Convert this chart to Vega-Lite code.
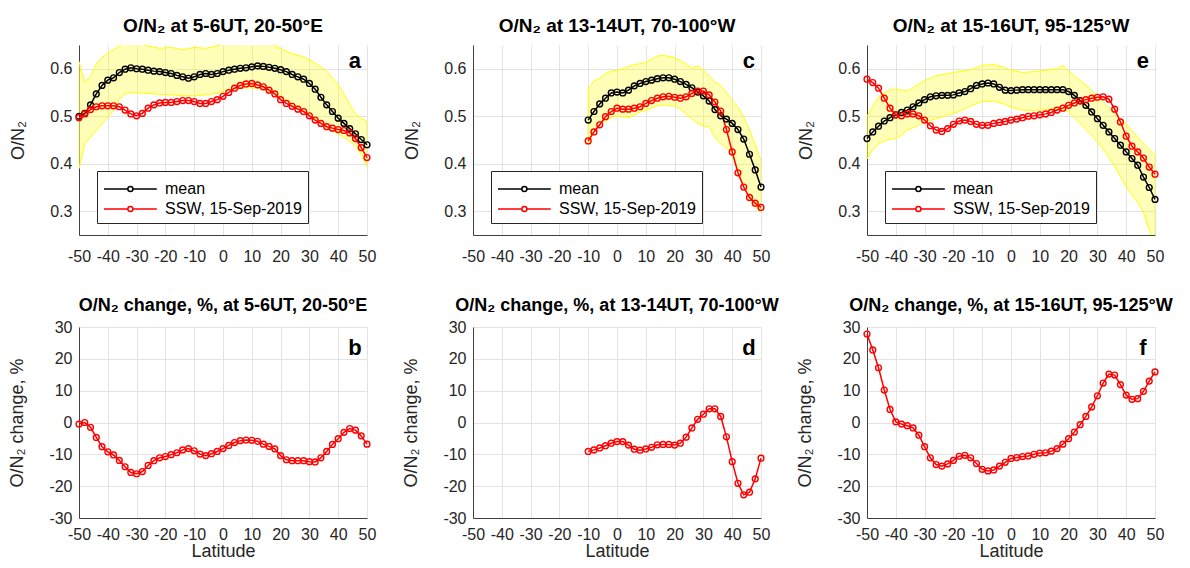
{
"$schema": "https://vega.github.io/schema/vega-lite/v6.json",
"background": "white",
"padding": {"left": 8, "top": 17, "right": 5, "bottom": 5},
"config": {
  "font": "Liberation Sans",
  "view": {"stroke": null},
  "axis": {"labelFont": "Liberation Sans", "labelFontSize": 16, "labelColor": "#262626", "titleFont": "Liberation Sans", "titleFontSize": 18, "titleFontWeight": "normal", "titleColor": "#262626", "domainColor": "#404040", "gridColor": "#e3e3e3", "ticks": false, "labelPadding": 8, "labelFlush": false, "labelOverlap": false},
  "axisY": {"titlePadding": 22, "labelPadding": 7},
  "axisX": {"titlePadding": 0},
  "title": {"font": "Liberation Sans", "fontSize": 19, "fontWeight": "bold", "color": "#000000", "offset": 9},
  "legend": {"labelFont": "Liberation Sans", "labelFontSize": 16, "labelColor": "#000000"}
},
"datasets": {
  "a": [
    {"lat": -50, "mean": 0.500, "ssw": 0.497}, {"lat": -48, "mean": 0.506, "ssw": 0.505}, {"lat": -46, "mean": 0.524, "ssw": 0.514}, {"lat": -44, "mean": 0.547, "ssw": 0.520}, {"lat": -42, "mean": 0.565, "ssw": 0.522}, {"lat": -40, "mean": 0.576, "ssw": 0.522}, {"lat": -38, "mean": 0.581, "ssw": 0.522}, {"lat": -36, "mean": 0.592, "ssw": 0.520}, {"lat": -34, "mean": 0.599, "ssw": 0.513}, {"lat": -32, "mean": 0.602, "ssw": 0.505}, {"lat": -30, "mean": 0.600, "ssw": 0.501}, {"lat": -28, "mean": 0.599, "ssw": 0.506}, {"lat": -26, "mean": 0.597, "ssw": 0.517}, {"lat": -24, "mean": 0.595, "ssw": 0.524}, {"lat": -22, "mean": 0.594, "ssw": 0.528}, {"lat": -20, "mean": 0.592, "ssw": 0.529}, {"lat": -18, "mean": 0.590, "ssw": 0.529}, {"lat": -16, "mean": 0.586, "ssw": 0.531}, {"lat": -14, "mean": 0.583, "ssw": 0.533}, {"lat": -12, "mean": 0.580, "ssw": 0.533}, {"lat": -10, "mean": 0.583, "ssw": 0.531}, {"lat": -8, "mean": 0.588, "ssw": 0.527}, {"lat": -6, "mean": 0.590, "ssw": 0.527}, {"lat": -4, "mean": 0.588, "ssw": 0.531}, {"lat": -2, "mean": 0.590, "ssw": 0.535}, {"lat": 0, "mean": 0.594, "ssw": 0.542}, {"lat": 2, "mean": 0.597, "ssw": 0.550}, {"lat": 4, "mean": 0.599, "ssw": 0.559}, {"lat": 6, "mean": 0.601, "ssw": 0.565}, {"lat": 8, "mean": 0.602, "ssw": 0.568}, {"lat": 10, "mean": 0.604, "ssw": 0.569}, {"lat": 12, "mean": 0.606, "ssw": 0.566}, {"lat": 14, "mean": 0.605, "ssw": 0.562}, {"lat": 16, "mean": 0.603, "ssw": 0.555}, {"lat": 18, "mean": 0.601, "ssw": 0.547}, {"lat": 20, "mean": 0.598, "ssw": 0.535}, {"lat": 22, "mean": 0.594, "ssw": 0.527}, {"lat": 24, "mean": 0.588, "ssw": 0.521}, {"lat": 26, "mean": 0.583, "ssw": 0.515}, {"lat": 28, "mean": 0.578, "ssw": 0.510}, {"lat": 30, "mean": 0.569, "ssw": 0.501}, {"lat": 32, "mean": 0.557, "ssw": 0.492}, {"lat": 34, "mean": 0.540, "ssw": 0.485}, {"lat": 36, "mean": 0.524, "ssw": 0.478}, {"lat": 38, "mean": 0.510, "ssw": 0.475}, {"lat": 40, "mean": 0.496, "ssw": 0.472}, {"lat": 42, "mean": 0.485, "ssw": 0.470}, {"lat": 44, "mean": 0.474, "ssw": 0.465}, {"lat": 46, "mean": 0.463, "ssw": 0.453}, {"lat": 48, "mean": 0.451, "ssw": 0.434}, {"lat": 50, "mean": 0.440, "ssw": 0.413}
  ],
  "a_band": [
    {"lat": -50, "lo": 0.390, "hi": 0.615}, {"lat": -48, "lo": 0.442, "hi": 0.571}, {"lat": -46, "lo": 0.456, "hi": 0.585}, {"lat": -44, "lo": 0.470, "hi": 0.610}, {"lat": -42, "lo": 0.484, "hi": 0.623}, {"lat": -40, "lo": 0.498, "hi": 0.633}, {"lat": -38, "lo": 0.512, "hi": 0.640}, {"lat": -36, "lo": 0.536, "hi": 0.648}, {"lat": -34, "lo": 0.547, "hi": 0.655}, {"lat": -32, "lo": 0.550, "hi": 0.660}, {"lat": -30, "lo": 0.549, "hi": 0.655}, {"lat": -26, "lo": 0.548, "hi": 0.648}, {"lat": -22, "lo": 0.546, "hi": 0.643}, {"lat": -18, "lo": 0.545, "hi": 0.645}, {"lat": -14, "lo": 0.543, "hi": 0.640}, {"lat": -10, "lo": 0.543, "hi": 0.645}, {"lat": -6, "lo": 0.545, "hi": 0.643}, {"lat": -2, "lo": 0.548, "hi": 0.648}, {"lat": 0, "lo": 0.553, "hi": 0.652}, {"lat": 4, "lo": 0.558, "hi": 0.658}, {"lat": 8, "lo": 0.560, "hi": 0.660}, {"lat": 12, "lo": 0.559, "hi": 0.658}, {"lat": 16, "lo": 0.553, "hi": 0.655}, {"lat": 20, "lo": 0.543, "hi": 0.642}, {"lat": 24, "lo": 0.526, "hi": 0.632}, {"lat": 28, "lo": 0.510, "hi": 0.625}, {"lat": 32, "lo": 0.495, "hi": 0.612}, {"lat": 36, "lo": 0.475, "hi": 0.595}, {"lat": 40, "lo": 0.463, "hi": 0.567}, {"lat": 44, "lo": 0.447, "hi": 0.525}, {"lat": 46, "lo": 0.437, "hi": 0.505}, {"lat": 48, "lo": 0.420, "hi": 0.495}, {"lat": 50, "lo": 0.393, "hi": 0.490}
  ],
  "c": [
    {"lat": -10, "mean": 0.492, "ssw": 0.448}, {"lat": -8, "mean": 0.510, "ssw": 0.467}, {"lat": -6, "mean": 0.526, "ssw": 0.482}, {"lat": -4, "mean": 0.538, "ssw": 0.499}, {"lat": -2, "mean": 0.549, "ssw": 0.510}, {"lat": 0, "mean": 0.551, "ssw": 0.517}, {"lat": 2, "mean": 0.549, "ssw": 0.515}, {"lat": 4, "mean": 0.555, "ssw": 0.515}, {"lat": 6, "mean": 0.564, "ssw": 0.517}, {"lat": 8, "mean": 0.569, "ssw": 0.520}, {"lat": 10, "mean": 0.573, "ssw": 0.527}, {"lat": 12, "mean": 0.576, "ssw": 0.533}, {"lat": 14, "mean": 0.579, "ssw": 0.538}, {"lat": 16, "mean": 0.581, "ssw": 0.541}, {"lat": 18, "mean": 0.581, "ssw": 0.542}, {"lat": 20, "mean": 0.578, "ssw": 0.540}, {"lat": 22, "mean": 0.573, "ssw": 0.538}, {"lat": 24, "mean": 0.567, "ssw": 0.541}, {"lat": 26, "mean": 0.560, "ssw": 0.548}, {"lat": 28, "mean": 0.551, "ssw": 0.553}, {"lat": 30, "mean": 0.543, "ssw": 0.553}, {"lat": 32, "mean": 0.532, "ssw": 0.545}, {"lat": 34, "mean": 0.514, "ssw": 0.530}, {"lat": 36, "mean": 0.501, "ssw": 0.511}, {"lat": 38, "mean": 0.494, "ssw": 0.472}, {"lat": 40, "mean": 0.485, "ssw": 0.425}, {"lat": 42, "mean": 0.472, "ssw": 0.381}, {"lat": 44, "mean": 0.452, "ssw": 0.351}, {"lat": 46, "mean": 0.420, "ssw": 0.329}, {"lat": 48, "mean": 0.387, "ssw": 0.317}, {"lat": 50, "mean": 0.351, "ssw": 0.308}
  ],
  "c_band": [
    {"lat": -10, "lo": 0.440, "hi": 0.557}, {"lat": -8, "lo": 0.470, "hi": 0.574}, {"lat": -6, "lo": 0.482, "hi": 0.580}, {"lat": -4, "lo": 0.490, "hi": 0.590}, {"lat": -2, "lo": 0.497, "hi": 0.595}, {"lat": 0, "lo": 0.501, "hi": 0.597}, {"lat": 2, "lo": 0.499, "hi": 0.600}, {"lat": 4, "lo": 0.497, "hi": 0.605}, {"lat": 6, "lo": 0.503, "hi": 0.608}, {"lat": 8, "lo": 0.509, "hi": 0.611}, {"lat": 10, "lo": 0.512, "hi": 0.613}, {"lat": 12, "lo": 0.518, "hi": 0.620}, {"lat": 14, "lo": 0.522, "hi": 0.627}, {"lat": 16, "lo": 0.524, "hi": 0.628}, {"lat": 18, "lo": 0.522, "hi": 0.626}, {"lat": 20, "lo": 0.522, "hi": 0.623}, {"lat": 22, "lo": 0.515, "hi": 0.618}, {"lat": 24, "lo": 0.505, "hi": 0.610}, {"lat": 26, "lo": 0.495, "hi": 0.601}, {"lat": 28, "lo": 0.485, "hi": 0.606}, {"lat": 30, "lo": 0.480, "hi": 0.597}, {"lat": 32, "lo": 0.477, "hi": 0.585}, {"lat": 34, "lo": 0.456, "hi": 0.572}, {"lat": 36, "lo": 0.442, "hi": 0.565}, {"lat": 38, "lo": 0.435, "hi": 0.550}, {"lat": 40, "lo": 0.417, "hi": 0.533}, {"lat": 42, "lo": 0.386, "hi": 0.519}, {"lat": 44, "lo": 0.351, "hi": 0.498}, {"lat": 46, "lo": 0.327, "hi": 0.470}, {"lat": 48, "lo": 0.310, "hi": 0.440}, {"lat": 50, "lo": 0.297, "hi": 0.407}
  ],
  "e": [
    {"lat": -50, "mean": 0.453, "ssw": 0.578}, {"lat": -48, "mean": 0.467, "ssw": 0.571}, {"lat": -46, "mean": 0.479, "ssw": 0.559}, {"lat": -44, "mean": 0.490, "ssw": 0.538}, {"lat": -42, "mean": 0.497, "ssw": 0.517}, {"lat": -40, "mean": 0.503, "ssw": 0.503}, {"lat": -38, "mean": 0.508, "ssw": 0.501}, {"lat": -36, "mean": 0.513, "ssw": 0.505}, {"lat": -34, "mean": 0.520, "ssw": 0.505}, {"lat": -32, "mean": 0.528, "ssw": 0.501}, {"lat": -30, "mean": 0.535, "ssw": 0.492}, {"lat": -28, "mean": 0.541, "ssw": 0.480}, {"lat": -26, "mean": 0.543, "ssw": 0.471}, {"lat": -24, "mean": 0.544, "ssw": 0.468}, {"lat": -22, "mean": 0.544, "ssw": 0.474}, {"lat": -20, "mean": 0.545, "ssw": 0.483}, {"lat": -18, "mean": 0.549, "ssw": 0.490}, {"lat": -16, "mean": 0.552, "ssw": 0.492}, {"lat": -14, "mean": 0.558, "ssw": 0.489}, {"lat": -12, "mean": 0.565, "ssw": 0.483}, {"lat": -10, "mean": 0.568, "ssw": 0.481}, {"lat": -8, "mean": 0.570, "ssw": 0.481}, {"lat": -6, "mean": 0.568, "ssw": 0.485}, {"lat": -4, "mean": 0.561, "ssw": 0.487}, {"lat": -2, "mean": 0.555, "ssw": 0.489}, {"lat": 0, "mean": 0.554, "ssw": 0.492}, {"lat": 2, "mean": 0.555, "ssw": 0.494}, {"lat": 4, "mean": 0.556, "ssw": 0.497}, {"lat": 6, "mean": 0.556, "ssw": 0.500}, {"lat": 8, "mean": 0.556, "ssw": 0.501}, {"lat": 10, "mean": 0.556, "ssw": 0.503}, {"lat": 12, "mean": 0.556, "ssw": 0.505}, {"lat": 14, "mean": 0.556, "ssw": 0.508}, {"lat": 16, "mean": 0.556, "ssw": 0.513}, {"lat": 18, "mean": 0.556, "ssw": 0.517}, {"lat": 20, "mean": 0.552, "ssw": 0.523}, {"lat": 22, "mean": 0.544, "ssw": 0.528}, {"lat": 24, "mean": 0.533, "ssw": 0.532}, {"lat": 26, "mean": 0.523, "ssw": 0.535}, {"lat": 28, "mean": 0.509, "ssw": 0.538}, {"lat": 30, "mean": 0.495, "ssw": 0.540}, {"lat": 32, "mean": 0.481, "ssw": 0.541}, {"lat": 34, "mean": 0.467, "ssw": 0.536}, {"lat": 36, "mean": 0.453, "ssw": 0.515}, {"lat": 38, "mean": 0.439, "ssw": 0.488}, {"lat": 40, "mean": 0.425, "ssw": 0.458}, {"lat": 42, "mean": 0.411, "ssw": 0.437}, {"lat": 44, "mean": 0.397, "ssw": 0.425}, {"lat": 46, "mean": 0.372, "ssw": 0.412}, {"lat": 48, "mean": 0.350, "ssw": 0.393}, {"lat": 50, "mean": 0.325, "ssw": 0.378}
  ],
  "e_band": [
    {"lat": -50, "lo": 0.410, "hi": 0.500}, {"lat": -48, "lo": 0.430, "hi": 0.520}, {"lat": -46, "lo": 0.442, "hi": 0.540}, {"lat": -44, "lo": 0.448, "hi": 0.550}, {"lat": -42, "lo": 0.452, "hi": 0.555}, {"lat": -40, "lo": 0.453, "hi": 0.557}, {"lat": -38, "lo": 0.460, "hi": 0.555}, {"lat": -36, "lo": 0.471, "hi": 0.553}, {"lat": -34, "lo": 0.476, "hi": 0.560}, {"lat": -32, "lo": 0.482, "hi": 0.568}, {"lat": -30, "lo": 0.488, "hi": 0.575}, {"lat": -26, "lo": 0.495, "hi": 0.585}, {"lat": -22, "lo": 0.502, "hi": 0.590}, {"lat": -18, "lo": 0.510, "hi": 0.594}, {"lat": -14, "lo": 0.522, "hi": 0.598}, {"lat": -10, "lo": 0.531, "hi": 0.607}, {"lat": -6, "lo": 0.532, "hi": 0.609}, {"lat": -2, "lo": 0.525, "hi": 0.602}, {"lat": 0, "lo": 0.519, "hi": 0.597}, {"lat": 4, "lo": 0.513, "hi": 0.592}, {"lat": 8, "lo": 0.512, "hi": 0.594}, {"lat": 12, "lo": 0.514, "hi": 0.597}, {"lat": 16, "lo": 0.516, "hi": 0.600}, {"lat": 18, "lo": 0.514, "hi": 0.607}, {"lat": 20, "lo": 0.510, "hi": 0.595}, {"lat": 22, "lo": 0.497, "hi": 0.585}, {"lat": 24, "lo": 0.485, "hi": 0.575}, {"lat": 26, "lo": 0.472, "hi": 0.566}, {"lat": 28, "lo": 0.460, "hi": 0.555}, {"lat": 30, "lo": 0.446, "hi": 0.543}, {"lat": 32, "lo": 0.430, "hi": 0.530}, {"lat": 34, "lo": 0.413, "hi": 0.518}, {"lat": 36, "lo": 0.395, "hi": 0.506}, {"lat": 38, "lo": 0.373, "hi": 0.495}, {"lat": 40, "lo": 0.351, "hi": 0.484}, {"lat": 42, "lo": 0.335, "hi": 0.470}, {"lat": 44, "lo": 0.318, "hi": 0.456}, {"lat": 46, "lo": 0.298, "hi": 0.442}, {"lat": 48, "lo": 0.260, "hi": 0.430}, {"lat": 50, "lo": 0.230, "hi": 0.418}
  ],
  "b": [
    {"lat": -50, "pct": -0.5}, {"lat": -48, "pct": 0.0}, {"lat": -46, "pct": -1.5}, {"lat": -44, "pct": -4.7}, {"lat": -42, "pct": -7.6}, {"lat": -40, "pct": -9.2}, {"lat": -38, "pct": -10.2}, {"lat": -36, "pct": -11.9}, {"lat": -34, "pct": -13.9}, {"lat": -32, "pct": -15.7}, {"lat": -30, "pct": -16.1}, {"lat": -28, "pct": -15.4}, {"lat": -26, "pct": -13.5}, {"lat": -24, "pct": -12.0}, {"lat": -22, "pct": -11.1}, {"lat": -20, "pct": -10.7}, {"lat": -18, "pct": -10.1}, {"lat": -16, "pct": -9.5}, {"lat": -14, "pct": -8.6}, {"lat": -12, "pct": -8.2}, {"lat": -10, "pct": -8.9}, {"lat": -8, "pct": -9.9}, {"lat": -6, "pct": -10.4}, {"lat": -4, "pct": -9.8}, {"lat": -2, "pct": -9.1}, {"lat": 0, "pct": -8.2}, {"lat": 2, "pct": -7.2}, {"lat": 4, "pct": -6.3}, {"lat": 6, "pct": -5.7}, {"lat": 8, "pct": -5.5}, {"lat": 10, "pct": -5.6}, {"lat": 12, "pct": -5.9}, {"lat": 14, "pct": -6.8}, {"lat": 16, "pct": -7.5}, {"lat": 18, "pct": -8.3}, {"lat": 20, "pct": -10.4}, {"lat": 22, "pct": -11.7}, {"lat": 24, "pct": -12.0}, {"lat": 26, "pct": -12.0}, {"lat": 28, "pct": -12.0}, {"lat": 30, "pct": -12.3}, {"lat": 32, "pct": -12.4}, {"lat": 34, "pct": -11.1}, {"lat": 36, "pct": -9.1}, {"lat": 38, "pct": -6.9}, {"lat": 40, "pct": -5.1}, {"lat": 42, "pct": -3.1}, {"lat": 44, "pct": -1.9}, {"lat": 46, "pct": -2.4}, {"lat": 48, "pct": -4.2}, {"lat": 50, "pct": -6.8}
  ],
  "d": [
    {"lat": -10, "pct": -9.1}, {"lat": -8, "pct": -8.6}, {"lat": -6, "pct": -8.0}, {"lat": -4, "pct": -7.3}, {"lat": -2, "pct": -6.5}, {"lat": 0, "pct": -6.0}, {"lat": 2, "pct": -6.0}, {"lat": 4, "pct": -7.1}, {"lat": 6, "pct": -8.4}, {"lat": 8, "pct": -8.7}, {"lat": 10, "pct": -8.3}, {"lat": 12, "pct": -7.8}, {"lat": 14, "pct": -7.0}, {"lat": 16, "pct": -6.9}, {"lat": 18, "pct": -6.9}, {"lat": 20, "pct": -7.1}, {"lat": 22, "pct": -6.5}, {"lat": 24, "pct": -4.6}, {"lat": 26, "pct": -1.7}, {"lat": 28, "pct": 1.0}, {"lat": 30, "pct": 2.6}, {"lat": 32, "pct": 4.3}, {"lat": 34, "pct": 4.3}, {"lat": 36, "pct": 1.9}, {"lat": 38, "pct": -4.5}, {"lat": 40, "pct": -12.3}, {"lat": 42, "pct": -19.1}, {"lat": 44, "pct": -22.7}, {"lat": 46, "pct": -21.9}, {"lat": 48, "pct": -17.7}, {"lat": 50, "pct": -11.2}
  ],
  "f": [
    {"lat": -50, "pct": 27.8}, {"lat": -48, "pct": 22.8}, {"lat": -46, "pct": 17.2}, {"lat": -44, "pct": 10.2}, {"lat": -42, "pct": 4.1}, {"lat": -40, "pct": 0.2}, {"lat": -38, "pct": -0.5}, {"lat": -36, "pct": -1.0}, {"lat": -34, "pct": -1.7}, {"lat": -32, "pct": -4.0}, {"lat": -30, "pct": -7.6}, {"lat": -28, "pct": -11.1}, {"lat": -26, "pct": -13.2}, {"lat": -24, "pct": -13.7}, {"lat": -22, "pct": -13.0}, {"lat": -20, "pct": -11.9}, {"lat": -18, "pct": -10.6}, {"lat": -16, "pct": -10.3}, {"lat": -14, "pct": -11.1}, {"lat": -12, "pct": -12.9}, {"lat": -10, "pct": -14.7}, {"lat": -8, "pct": -15.2}, {"lat": -6, "pct": -14.9}, {"lat": -4, "pct": -13.7}, {"lat": -2, "pct": -12.5}, {"lat": 0, "pct": -11.3}, {"lat": 2, "pct": -11.0}, {"lat": 4, "pct": -10.7}, {"lat": 6, "pct": -10.5}, {"lat": 8, "pct": -10.0}, {"lat": 10, "pct": -9.6}, {"lat": 12, "pct": -9.5}, {"lat": 14, "pct": -9.0}, {"lat": 16, "pct": -8.2}, {"lat": 18, "pct": -6.8}, {"lat": 20, "pct": -5.1}, {"lat": 22, "pct": -3.0}, {"lat": 24, "pct": -0.7}, {"lat": 26, "pct": 1.9}, {"lat": 28, "pct": 4.9}, {"lat": 30, "pct": 8.4}, {"lat": 32, "pct": 12.4}, {"lat": 34, "pct": 15.2}, {"lat": 36, "pct": 14.9}, {"lat": 38, "pct": 11.9}, {"lat": 40, "pct": 8.6}, {"lat": 42, "pct": 7.3}, {"lat": 44, "pct": 7.5}, {"lat": 46, "pct": 9.8}, {"lat": 48, "pct": 13.0}, {"lat": 50, "pct": 15.9}
  ]
},
"spacing": 33,
"vconcat": [
  {
    "hconcat": [
      {
        "width": 288, "height": 190,
        "title": "O/N₂ at 5-6UT, 20-50°E",
        "layer": [
          {"data": {"name": "a_band"}, "mark": {"type": "area", "clip": true, "fill": "#ffff00", "fillOpacity": 0.28, "stroke": "#ffff00", "strokeWidth": 1},
           "encoding": {"x": {"field": "lat", "type": "quantitative", "scale": {"domain": [-50, 50], "nice": false}, "axis": {"values": [-50, -40, -30, -20, -10, 0, 10, 20, 30, 40, 50], "labelExpr": "toString(datum.value)", "labelOverlap": false, "labelPadding": 13, "title": null}},
                        "y": {"field": "lo", "type": "quantitative", "scale": {"domain": [0.25, 0.65], "nice": false, "zero": false}, "axis": {"values": [0.3, 0.4, 0.5, 0.6], "labelExpr": "toString(datum.value)", "labelOverlap": false, "title": "O/N₂"}},
                        "y2": {"field": "hi"}}},
          {"data": {"name": "a"}, "transform": [{"fold": ["mean", "ssw"], "as": ["s", "v"]}],
           "mark": {"type": "line", "strokeWidth": 1.5, "point": {"filled": false, "size": 34, "strokeWidth": 1.4}},
           "encoding": {"x": {"field": "lat", "type": "quantitative", "scale": {"domain": [-50, 50], "nice": false}, "axis": {"values": [-50, -40, -30, -20, -10, 0, 10, 20, 30, 40, 50], "labelExpr": "toString(datum.value)", "labelOverlap": false, "labelPadding": 13, "title": null}},
                        "y": {"field": "v", "type": "quantitative", "scale": {"domain": [0.25, 0.65], "nice": false, "zero": false}, "axis": {"values": [0.3, 0.4, 0.5, 0.6], "labelExpr": "toString(datum.value)", "labelOverlap": false, "title": "O/N₂"}},
                        "color": {"field": "s", "type": "nominal", "scale": {"domain": ["mean", "ssw"], "range": ["#000000", "#ff0000"]},
                                  "legend": {"orient": "none", "legendX": 18, "legendY": 126, "title": null, "labelExpr": "datum.value == 'ssw' ? 'SSW, 15-Sep-2019' : 'mean'", "symbolType": "M-1,0H1.17M1.63,0H3.8M1.63,0A0.23,0.23,0,1,1,1.17,0A0.23,0.23,0,1,1,1.63,0", "symbolSize": 484, "symbolStrokeWidth": 1.5, "symbolFillColor": "transparent", "fillColor": "white", "strokeColor": "#262626", "padding": 6, "labelFontSize": 16, "rowPadding": 0, "labelOffset": 38}}}},
          {"data": {"values": [{"t": "a"}]}, "mark": {"type": "text", "fontSize": 22, "fontWeight": "bold", "align": "center", "baseline": "alphabetic", "color": "#000000"},
           "encoding": {"x": {"datum": 45.8, "type": "quantitative", "scale": {"domain": [-50, 50], "nice": false}, "axis": {"values": [-50, -40, -30, -20, -10, 0, 10, 20, 30, 40, 50], "labelExpr": "toString(datum.value)", "labelOverlap": false, "labelPadding": 13, "title": null}},
                        "y": {"datum": 0.6016, "type": "quantitative", "scale": {"domain": [0.25, 0.65], "nice": false, "zero": false}, "axis": {"values": [0.3, 0.4, 0.5, 0.6], "labelExpr": "toString(datum.value)", "labelOverlap": false, "title": "O/N₂"}},
                        "text": {"field": "t"}}}
        ]
      },
      {
        "width": 288, "height": 190,
        "title": "O/N₂ at 13-14UT, 70-100°W",
        "layer": [
          {"data": {"name": "c_band"}, "mark": {"type": "area", "clip": true, "fill": "#ffff00", "fillOpacity": 0.28, "stroke": "#ffff00", "strokeWidth": 1},
           "encoding": {"x": {"field": "lat", "type": "quantitative", "scale": {"domain": [-50, 50], "nice": false}, "axis": {"values": [-50, -40, -30, -20, -10, 0, 10, 20, 30, 40, 50], "labelExpr": "toString(datum.value)", "labelOverlap": false, "labelPadding": 13, "title": null}},
                        "y": {"field": "lo", "type": "quantitative", "scale": {"domain": [0.25, 0.65], "nice": false, "zero": false}, "axis": {"values": [0.3, 0.4, 0.5, 0.6], "labelExpr": "toString(datum.value)", "labelOverlap": false, "title": "O/N₂"}},
                        "y2": {"field": "hi"}}},
          {"data": {"name": "c"}, "transform": [{"fold": ["mean", "ssw"], "as": ["s", "v"]}],
           "mark": {"type": "line", "strokeWidth": 1.5, "point": {"filled": false, "size": 34, "strokeWidth": 1.4}},
           "encoding": {"x": {"field": "lat", "type": "quantitative", "scale": {"domain": [-50, 50], "nice": false}, "axis": {"values": [-50, -40, -30, -20, -10, 0, 10, 20, 30, 40, 50], "labelExpr": "toString(datum.value)", "labelOverlap": false, "labelPadding": 13, "title": null}},
                        "y": {"field": "v", "type": "quantitative", "scale": {"domain": [0.25, 0.65], "nice": false, "zero": false}, "axis": {"values": [0.3, 0.4, 0.5, 0.6], "labelExpr": "toString(datum.value)", "labelOverlap": false, "title": "O/N₂"}},
                        "color": {"field": "s", "type": "nominal", "scale": {"domain": ["mean", "ssw"], "range": ["#000000", "#ff0000"]},
                                  "legend": {"orient": "none", "legendX": 18, "legendY": 126, "title": null, "labelExpr": "datum.value == 'ssw' ? 'SSW, 15-Sep-2019' : 'mean'", "symbolType": "M-1,0H1.17M1.63,0H3.8M1.63,0A0.23,0.23,0,1,1,1.17,0A0.23,0.23,0,1,1,1.63,0", "symbolSize": 484, "symbolStrokeWidth": 1.5, "symbolFillColor": "transparent", "fillColor": "white", "strokeColor": "#262626", "padding": 6, "labelFontSize": 16, "rowPadding": 0, "labelOffset": 38}}}},
          {"data": {"values": [{"t": "c"}]}, "mark": {"type": "text", "fontSize": 22, "fontWeight": "bold", "align": "center", "baseline": "alphabetic", "color": "#000000"},
           "encoding": {"x": {"datum": 45.8, "type": "quantitative", "scale": {"domain": [-50, 50], "nice": false}, "axis": {"values": [-50, -40, -30, -20, -10, 0, 10, 20, 30, 40, 50], "labelExpr": "toString(datum.value)", "labelOverlap": false, "labelPadding": 13, "title": null}},
                        "y": {"datum": 0.6016, "type": "quantitative", "scale": {"domain": [0.25, 0.65], "nice": false, "zero": false}, "axis": {"values": [0.3, 0.4, 0.5, 0.6], "labelExpr": "toString(datum.value)", "labelOverlap": false, "title": "O/N₂"}},
                        "text": {"field": "t"}}}
        ]
      },
      {
        "width": 288, "height": 190,
        "title": "O/N₂ at 15-16UT, 95-125°W",
        "layer": [
          {"data": {"name": "e_band"}, "mark": {"type": "area", "clip": true, "fill": "#ffff00", "fillOpacity": 0.28, "stroke": "#ffff00", "strokeWidth": 1},
           "encoding": {"x": {"field": "lat", "type": "quantitative", "scale": {"domain": [-50, 50], "nice": false}, "axis": {"values": [-50, -40, -30, -20, -10, 0, 10, 20, 30, 40, 50], "labelExpr": "toString(datum.value)", "labelOverlap": false, "labelPadding": 13, "title": null}},
                        "y": {"field": "lo", "type": "quantitative", "scale": {"domain": [0.25, 0.65], "nice": false, "zero": false}, "axis": {"values": [0.3, 0.4, 0.5, 0.6], "labelExpr": "toString(datum.value)", "labelOverlap": false, "title": "O/N₂"}},
                        "y2": {"field": "hi"}}},
          {"data": {"name": "e"}, "transform": [{"fold": ["mean", "ssw"], "as": ["s", "v"]}],
           "mark": {"type": "line", "strokeWidth": 1.5, "point": {"filled": false, "size": 34, "strokeWidth": 1.4}},
           "encoding": {"x": {"field": "lat", "type": "quantitative", "scale": {"domain": [-50, 50], "nice": false}, "axis": {"values": [-50, -40, -30, -20, -10, 0, 10, 20, 30, 40, 50], "labelExpr": "toString(datum.value)", "labelOverlap": false, "labelPadding": 13, "title": null}},
                        "y": {"field": "v", "type": "quantitative", "scale": {"domain": [0.25, 0.65], "nice": false, "zero": false}, "axis": {"values": [0.3, 0.4, 0.5, 0.6], "labelExpr": "toString(datum.value)", "labelOverlap": false, "title": "O/N₂"}},
                        "color": {"field": "s", "type": "nominal", "scale": {"domain": ["mean", "ssw"], "range": ["#000000", "#ff0000"]},
                                  "legend": {"orient": "none", "legendX": 18, "legendY": 126, "title": null, "labelExpr": "datum.value == 'ssw' ? 'SSW, 15-Sep-2019' : 'mean'", "symbolType": "M-1,0H1.17M1.63,0H3.8M1.63,0A0.23,0.23,0,1,1,1.17,0A0.23,0.23,0,1,1,1.63,0", "symbolSize": 484, "symbolStrokeWidth": 1.5, "symbolFillColor": "transparent", "fillColor": "white", "strokeColor": "#262626", "padding": 6, "labelFontSize": 16, "rowPadding": 0, "labelOffset": 38}}}},
          {"data": {"values": [{"t": "e"}]}, "mark": {"type": "text", "fontSize": 22, "fontWeight": "bold", "align": "center", "baseline": "alphabetic", "color": "#000000"},
           "encoding": {"x": {"datum": 45.8, "type": "quantitative", "scale": {"domain": [-50, 50], "nice": false}, "axis": {"values": [-50, -40, -30, -20, -10, 0, 10, 20, 30, 40, 50], "labelExpr": "toString(datum.value)", "labelOverlap": false, "labelPadding": 13, "title": null}},
                        "y": {"datum": 0.6016, "type": "quantitative", "scale": {"domain": [0.25, 0.65], "nice": false, "zero": false}, "axis": {"values": [0.3, 0.4, 0.5, 0.6], "labelExpr": "toString(datum.value)", "labelOverlap": false, "title": "O/N₂"}},
                        "text": {"field": "t"}}}
        ]
      }
    ],
    "spacing": 106,
    "bounds": "flush",
    "resolve": {"scale": {"color": "independent"}, "legend": {"color": "independent"}}
  },
  {
    "hconcat": [
      {
        "width": 288, "height": 191,
        "title": {"text": "O/N₂ change, %, at 5-6UT, 20-50°E", "fontSize": 18, "offset": 4},
        "layer": [
          {"data": {"name": "b"}, "mark": {"type": "line", "color": "#ff0000", "strokeWidth": 1.5, "point": {"filled": false, "size": 34, "strokeWidth": 1.4, "color": "#ff0000"}},
           "encoding": {"x": {"field": "lat", "type": "quantitative", "scale": {"domain": [-50, 50], "nice": false}, "axis": {"values": [-50, -40, -30, -20, -10, 0, 10, 20, 30, 40, 50], "labelExpr": "toString(datum.value)", "labelOverlap": false, "title": "Latitude"}},
                        "y": {"field": "pct", "type": "quantitative", "scale": {"domain": [-30, 30], "nice": false}, "axis": {"values": [-30, -20, -10, 0, 10, 20, 30], "labelExpr": "toString(datum.value)", "labelOverlap": false, "title": "O/N₂ change, %"}}}},
          {"data": {"values": [{"t": "b"}]}, "mark": {"type": "text", "fontSize": 22, "fontWeight": "bold", "align": "center", "baseline": "alphabetic", "color": "#000000"},
           "encoding": {"x": {"datum": 45.8, "type": "quantitative", "scale": {"domain": [-50, 50], "nice": false}, "axis": {"values": [-50, -40, -30, -20, -10, 0, 10, 20, 30, 40, 50], "labelExpr": "toString(datum.value)", "labelOverlap": false, "title": "Latitude"}},
                        "y": {"datum": 21.2, "type": "quantitative", "scale": {"domain": [-30, 30], "nice": false}, "axis": {"values": [-30, -20, -10, 0, 10, 20, 30], "labelExpr": "toString(datum.value)", "labelOverlap": false, "title": "O/N₂ change, %"}},
                        "text": {"field": "t"}}}
        ]
      },
      {
        "width": 288, "height": 191,
        "title": {"text": "O/N₂ change, %, at 13-14UT, 70-100°W", "fontSize": 18, "offset": 4},
        "layer": [
          {"data": {"name": "d"}, "mark": {"type": "line", "color": "#ff0000", "strokeWidth": 1.5, "point": {"filled": false, "size": 34, "strokeWidth": 1.4, "color": "#ff0000"}},
           "encoding": {"x": {"field": "lat", "type": "quantitative", "scale": {"domain": [-50, 50], "nice": false}, "axis": {"values": [-50, -40, -30, -20, -10, 0, 10, 20, 30, 40, 50], "labelExpr": "toString(datum.value)", "labelOverlap": false, "title": "Latitude"}},
                        "y": {"field": "pct", "type": "quantitative", "scale": {"domain": [-30, 30], "nice": false}, "axis": {"values": [-30, -20, -10, 0, 10, 20, 30], "labelExpr": "toString(datum.value)", "labelOverlap": false, "title": "O/N₂ change, %"}}}},
          {"data": {"values": [{"t": "d"}]}, "mark": {"type": "text", "fontSize": 22, "fontWeight": "bold", "align": "center", "baseline": "alphabetic", "color": "#000000"},
           "encoding": {"x": {"datum": 45.8, "type": "quantitative", "scale": {"domain": [-50, 50], "nice": false}, "axis": {"values": [-50, -40, -30, -20, -10, 0, 10, 20, 30, 40, 50], "labelExpr": "toString(datum.value)", "labelOverlap": false, "title": "Latitude"}},
                        "y": {"datum": 21.2, "type": "quantitative", "scale": {"domain": [-30, 30], "nice": false}, "axis": {"values": [-30, -20, -10, 0, 10, 20, 30], "labelExpr": "toString(datum.value)", "labelOverlap": false, "title": "O/N₂ change, %"}},
                        "text": {"field": "t"}}}
        ]
      },
      {
        "width": 288, "height": 191,
        "title": {"text": "O/N₂ change, %, at 15-16UT, 95-125°W", "fontSize": 18, "offset": 4},
        "layer": [
          {"data": {"name": "f"}, "mark": {"type": "line", "color": "#ff0000", "strokeWidth": 1.5, "point": {"filled": false, "size": 34, "strokeWidth": 1.4, "color": "#ff0000"}},
           "encoding": {"x": {"field": "lat", "type": "quantitative", "scale": {"domain": [-50, 50], "nice": false}, "axis": {"values": [-50, -40, -30, -20, -10, 0, 10, 20, 30, 40, 50], "labelExpr": "toString(datum.value)", "labelOverlap": false, "title": "Latitude"}},
                        "y": {"field": "pct", "type": "quantitative", "scale": {"domain": [-30, 30], "nice": false}, "axis": {"values": [-30, -20, -10, 0, 10, 20, 30], "labelExpr": "toString(datum.value)", "labelOverlap": false, "title": "O/N₂ change, %"}}}},
          {"data": {"values": [{"t": "f"}]}, "mark": {"type": "text", "fontSize": 22, "fontWeight": "bold", "align": "center", "baseline": "alphabetic", "color": "#000000"},
           "encoding": {"x": {"datum": 45.8, "type": "quantitative", "scale": {"domain": [-50, 50], "nice": false}, "axis": {"values": [-50, -40, -30, -20, -10, 0, 10, 20, 30, 40, 50], "labelExpr": "toString(datum.value)", "labelOverlap": false, "title": "Latitude"}},
                        "y": {"datum": 21.2, "type": "quantitative", "scale": {"domain": [-30, 30], "nice": false}, "axis": {"values": [-30, -20, -10, 0, 10, 20, 30], "labelExpr": "toString(datum.value)", "labelOverlap": false, "title": "O/N₂ change, %"}},
                        "text": {"field": "t"}}}
        ]
      }
    ],
    "spacing": 106,
    "bounds": "flush"
  }
]
}
